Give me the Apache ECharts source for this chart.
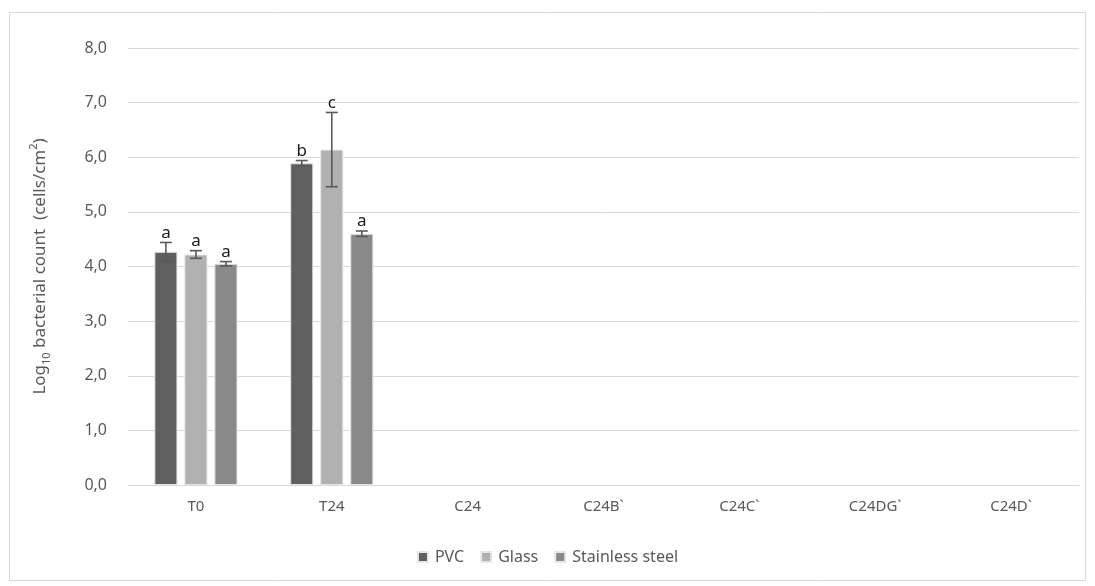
<!DOCTYPE html>
<html>
<head>
<meta charset="utf-8">
<script src="https://cdn.jsdelivr.net/npm/echarts@6/dist/echarts.min.js"></script>
<style>
  html, body { margin: 0; padding: 0; background: #fff; }
  #chart { width: 1095px; height: 586px; }
</style>
</head>
<body>
<div id="chart"></div>
<script>
// Sampling times / conditions on the x axis
const categories = ['T0', 'T24', 'C24', 'C24B`', 'C24C`', 'C24DG`', 'C24D`'];
const seriesNames = ['PVC', 'Glass', 'Stainless steel'];
const seriesColors = ['#5f5f5f', '#b1b1b1', '#898989'];

// Mean log10 counts per surface (null = not measured)
const pvcValues   = [4.27, 5.89, null, null, null, null, null];
const glassValues = [4.22, 6.14, null, null, null, null, null];
const steelValues = [4.05, 4.60, null, null, null, null, null];

// Standard deviations
const pvcErrors   = [0.17, 0.05, null, null, null, null, null];
const glassErrors = [0.07, 0.68, null, null, null, null, null];
const steelErrors = [0.04, 0.05, null, null, null, null, null];

// Significance letters
const pvcLetters   = ['a', 'b', '', '', '', '', ''];
const glassLetters = ['a', 'c', '', '', '', '', ''];
const steelLetters = ['a', 'a', '', '', '', '', ''];

const yTicks = [0, 1, 2, 3, 4, 5, 6, 7, 8];

const values = [pvcValues, glassValues, steelValues];
const errors = [pvcErrors, glassErrors, steelErrors];
const letters = [pvcLetters, glassLetters, steelLetters];

const BAR_W = 0.17;   // fraction of category band
const BAR_GAP = 0.30; // fraction of bar width

const FONT = '"Noto Sans", "Open Sans", sans-serif';

const chart = echarts.init(document.getElementById('chart'), null, { renderer: 'canvas' });

const barSeries = seriesNames.map((name, i) => ({
  name: name,
  type: 'bar',
  data: values[i],
  barWidth: (BAR_W * 100) + '%',
  barGap: (BAR_GAP * 100) + '%',
  itemStyle: { color: seriesColors[i], borderColor: '#e6e6e6', borderWidth: 1 },
  emphasis: { disabled: true },
  z: 2
}));

function errorSeries(i) {
  const data = categories.map((c, k) => [k, values[i][k], errors[i][k], letters[i][k]])
    .filter(d => d[1] != null);
  return {
    type: 'custom',
    name: seriesNames[i] + ' error',
    data: data,
    z: 5,
    silent: true,
    renderItem: function (params, api) {
      const k = api.value(0);
      const v = api.value(1);
      const e = api.value(2);
      const letter = data[params.dataIndex][3];
      const band = api.size([1, 0])[0];
      const bw = band * BAR_W;
      const gap = bw * BAR_GAP;
      const center = api.coord([k, v])[0];
      const x = center + (i - 1) * (bw + gap);
      const top = api.coord([k, v + e])[1];
      const bot = api.coord([k, v - e])[1];
      const cap = 6;
      const style = { stroke: '#595959', lineWidth: 1.6 };
      return {
        type: 'group',
        children: [
          { type: 'line', shape: { x1: x, y1: top, x2: x, y2: bot }, style: style },
          { type: 'line', shape: { x1: x - cap, y1: top, x2: x + cap, y2: top }, style: style },
          { type: 'line', shape: { x1: x - cap, y1: bot, x2: x + cap, y2: bot }, style: style },
          {
            type: 'text',
            style: {
              x: x, y: top - 1, text: letter,
              textAlign: 'center', textVerticalAlign: 'bottom',
              font: '17px ' + FONT, fill: '#1a1a1a'
            }
          }
        ]
      };
    }
  };
}

const option = {
  animation: false,
  backgroundColor: '#ffffff',
  textStyle: { fontFamily: FONT },
  graphic: [{
    type: 'rect',
    shape: { x: 9.5, y: 12.5, width: 1076, height: 568 },
    style: { fill: 'none', stroke: '#d9d9d9', lineWidth: 1 },
    silent: true, z: -1
  }],
  grid: { left: 128, right: 16, top: 48, bottom: 101, containLabel: false },
  legend: {
    data: seriesNames,
    bottom: 16,
    left: 'center',
    itemWidth: 10, itemHeight: 10, itemGap: 16,
    icon: 'rect',
    textStyle: { color: '#595959', fontSize: 16, fontFamily: FONT, padding: [0, 0, 0, 2] }
  },
  xAxis: {
    type: 'category',
    data: categories,
    axisLine: { lineStyle: { color: '#d9d9d9', width: 1 } },
    axisTick: { show: false },
    axisLabel: { color: '#595959', fontSize: 15, fontFamily: FONT, margin: 14 }
  },
  yAxis: {
    type: 'value',
    min: yTicks[0], max: yTicks[yTicks.length - 1], interval: 1,
    axisLine: { show: false },
    axisTick: { show: false },
    splitLine: { lineStyle: { color: '#d9d9d9', width: 1 } },
    axisLabel: {
      color: '#595959', fontSize: 16, fontFamily: FONT, margin: 21,
      formatter: v => v.toFixed(1).replace('.', ',')
    },
    name: '{n|Log}{s|10}{n| bacterial count  (cells/cm}{p|2}{n|)}',
    nameLocation: 'middle',
    nameGap: 76,
    nameTextStyle: {
      rich: {
        n: { fontSize: 17, color: '#595959', lineHeight: 24, fontFamily: FONT },
        s: { fontSize: 11, color: '#595959', lineHeight: 24, verticalAlign: 'bottom', padding: [7, 0, 0, 0], fontFamily: FONT },
        p: { fontSize: 11, color: '#595959', lineHeight: 24, verticalAlign: 'top', padding: [0, 0, 7, 0], fontFamily: FONT }
      }
    }
  },
  series: barSeries.concat([0, 1, 2].map(errorSeries))
};

chart.setOption(option);
</script>
</body>
</html>
